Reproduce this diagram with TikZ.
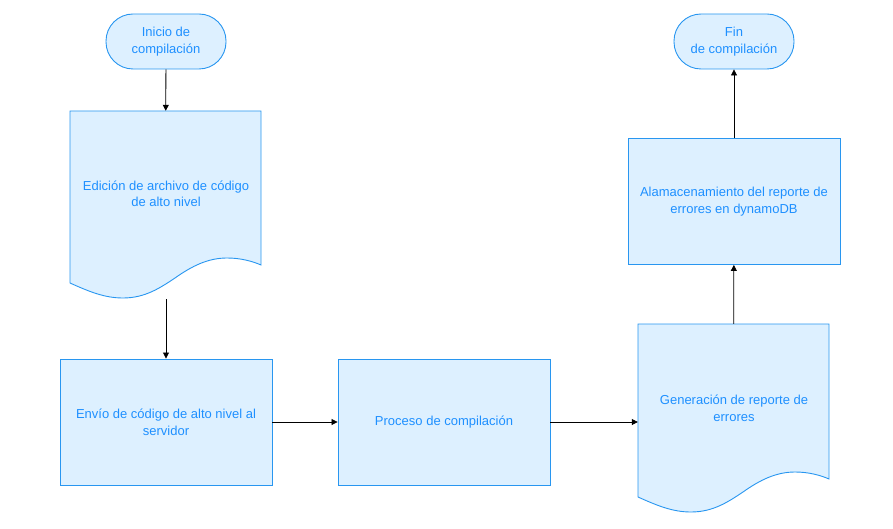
\documentclass[tikz,border=0pt]{standalone}
\usepackage{fontspec}
\setmainfont{Liberation Sans}
\usetikzlibrary{arrows.meta}
\definecolor{boxfill}{RGB}{221,240,255}
\definecolor{boxline}{RGB}{40,150,240}
\definecolor{boxtext}{RGB}{30,144,255}
\tikzset{
  proc/.style={draw=boxline, fill=boxfill, line width=0.9pt, minimum width=212pt, minimum height=126pt, inner sep=0pt, text=boxtext, font=\fontsize{13}{17}\selectfont, align=center},
  term/.style={draw=boxline, fill=boxfill, line width=0.9pt, rounded corners=27pt, minimum width=120pt, minimum height=55pt, inner sep=0pt, text=boxtext, font=\fontsize{13}{17}\selectfont, align=center},
  docshape/.style={draw=boxline, fill=boxfill, line width=0.9pt},
  doctext/.style={text=boxtext, align=center, inner sep=0pt},
  conn/.style={draw=black, line width=0.8pt, -{Triangle[length=6pt,width=6pt]}},
}
\begin{document}
\begin{tikzpicture}[x=1pt,y=-1pt]
\useasboundingbox (0,0) rectangle (893,529);
% document shapes
\path[docshape] (70,111) -- (261,111) -- (261,265)
  .. controls (252,261) and (240,258) .. (227,258)
  .. controls (208,258) and (192,266) .. (175,278)
  .. controls (160,288) and (145,298) .. (123,298)
  .. controls (105,298) and (90,292) .. (70,283) -- cycle;
\begin{scope}[shift={(568,214)}]
\path[docshape] (70,110) -- (261,110) -- (261,265)
  .. controls (252,261) and (240,258) .. (227,258)
  .. controls (208,258) and (192,266) .. (175,278)
  .. controls (160,288) and (145,298) .. (123,298)
  .. controls (105,298) and (90,292) .. (70,283) -- cycle;
\end{scope}
% nodes
\node[term] (start) at (166,41.5) {Inicio de\\compilación};
\node[term] (fin) at (734,41.5) {Fin\\de compilación};
\node[doctext, minimum width=191pt, minimum height=172pt] (edit) at (165.5,197) {};
\node[doctext, font=\fontsize{13}{16.5}\selectfont] (edittxt) at (166,194) {Edición de archivo de código\\de alto nivel};
\node[doctext, minimum width=191pt, minimum height=172pt] (gen) at (733.5,410) {};
\node[doctext, font=\fontsize{13}{17}\selectfont] (gentxt) at (734,408) {Generación de reporte de\\errores};
\node[proc] (envio) at (166,422) {Envío de código de alto nivel al\\servidor};
\node[proc] (proc) at (444,422) {Proceso de compilación};
\node[proc] (alm) at (734,201.5) {Alamacenamiento del reporte de\\errores en dynamoDB};
\coordinate (editout) at (166,299);
% connectors
\draw[conn] (start) -- (edit);
\draw[conn] (editout) -- (envio);
\draw[conn] (envio) -- (proc);
\draw[conn] (proc.east) -- (proc.east -| gen.west);
\draw[conn] (gen) -- (alm);
\draw[conn] (alm) -- (fin);
\end{tikzpicture}
\end{document}
